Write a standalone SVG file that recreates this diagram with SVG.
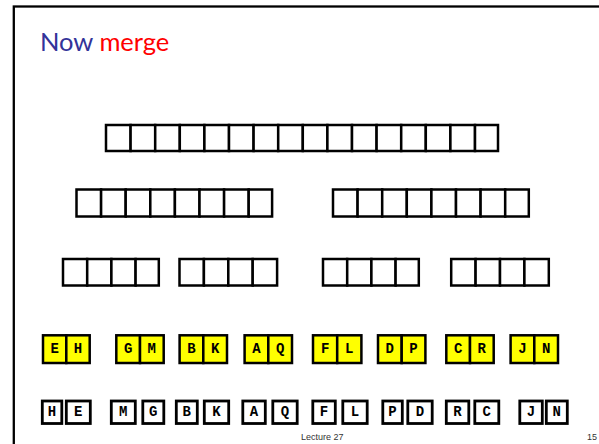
<svg xmlns="http://www.w3.org/2000/svg" width="599" height="444" viewBox="0 0 599 444">
<style>
.c{fill:#fff;stroke:#000;stroke-width:2.5}
.y{fill:#ffff00;stroke:#000;stroke-width:2.5}
.b{fill:#fff;stroke:#000;stroke-width:2.8}
.t{font-family:"Liberation Mono",monospace;font-weight:bold;font-size:14px;text-anchor:middle}
.f{font-family:"Liberation Sans",Arial,sans-serif;font-size:9px;fill:#333}
</style>
<rect width="599" height="444" fill="#fff"/>
<rect x="13.8" y="6.5" width="600" height="450" fill="none" stroke="#000" stroke-width="2.3"/>
<text x="40" y="51" font-family="Lato,'Open Sans',sans-serif" font-size="25.5"><tspan fill="#333399">Now</tspan> <tspan fill="#ff0000">merge</tspan></text>
<g id="row1">
<rect class="c" x="106" y="125" width="24.6" height="26"/>
<rect class="c" x="130.6" y="125" width="24.6" height="26"/>
<rect class="c" x="155.2" y="125" width="24.6" height="26"/>
<rect class="c" x="179.8" y="125" width="24.6" height="26"/>
<rect class="c" x="204.4" y="125" width="24.6" height="26"/>
<rect class="c" x="229" y="125" width="24.6" height="26"/>
<rect class="c" x="253.6" y="125" width="24.6" height="26"/>
<rect class="c" x="278.2" y="125" width="24.6" height="26"/>
<rect class="c" x="302.8" y="125" width="24.6" height="26"/>
<rect class="c" x="327.4" y="125" width="24.6" height="26"/>
<rect class="c" x="352" y="125" width="24.6" height="26"/>
<rect class="c" x="376.6" y="125" width="24.6" height="26"/>
<rect class="c" x="401.2" y="125" width="24.6" height="26"/>
<rect class="c" x="425.8" y="125" width="24.6" height="26"/>
<rect class="c" x="450.4" y="125" width="24.6" height="26"/>
<rect class="c" x="475" y="125" width="23" height="26"/>
</g>
<g id="row2a">
<rect class="c" x="76.5" y="189.5" width="24.6" height="27"/>
<rect class="c" x="101.1" y="189.5" width="24.6" height="27"/>
<rect class="c" x="125.7" y="189.5" width="24.6" height="27"/>
<rect class="c" x="150.3" y="189.5" width="24.6" height="27"/>
<rect class="c" x="174.9" y="189.5" width="24.6" height="27"/>
<rect class="c" x="199.5" y="189.5" width="24.6" height="27"/>
<rect class="c" x="224.1" y="189.5" width="24.6" height="27"/>
<rect class="c" x="248.7" y="189.5" width="23.4" height="27"/>
</g>
<g id="row2b">
<rect class="c" x="333" y="189.5" width="24.6" height="27"/>
<rect class="c" x="357.6" y="189.5" width="24.6" height="27"/>
<rect class="c" x="382.2" y="189.5" width="24.6" height="27"/>
<rect class="c" x="406.8" y="189.5" width="24.6" height="27"/>
<rect class="c" x="431.4" y="189.5" width="24.6" height="27"/>
<rect class="c" x="456" y="189.5" width="24.6" height="27"/>
<rect class="c" x="480.6" y="189.5" width="24.6" height="27"/>
<rect class="c" x="505.2" y="189.5" width="23.6" height="27"/>
</g>
<g id="row3a">
<rect class="c" x="63" y="259" width="24.2" height="26.5"/>
<rect class="c" x="87.2" y="259" width="24.2" height="26.5"/>
<rect class="c" x="111.4" y="259" width="24.2" height="26.5"/>
<rect class="c" x="135.6" y="259" width="23.2" height="26.5"/>
</g>
<g id="row3b">
<rect class="c" x="179.5" y="259" width="24.4" height="26.5"/>
<rect class="c" x="203.9" y="259" width="24.4" height="26.5"/>
<rect class="c" x="228.3" y="259" width="24.4" height="26.5"/>
<rect class="c" x="252.7" y="259" width="24.4" height="26.5"/>
</g>
<g id="row3c">
<rect class="c" x="323" y="259" width="24.2" height="26.5"/>
<rect class="c" x="347.2" y="259" width="24.2" height="26.5"/>
<rect class="c" x="371.4" y="259" width="24.2" height="26.5"/>
<rect class="c" x="395.6" y="259" width="23.2" height="26.5"/>
</g>
<g id="row3d">
<rect class="c" x="451.2" y="259" width="24.4" height="26.5"/>
<rect class="c" x="475.6" y="259" width="24.4" height="26.5"/>
<rect class="c" x="500" y="259" width="24.4" height="26.5"/>
<rect class="c" x="524.4" y="259" width="24.4" height="26.5"/>
</g>
<g id="row4">
<g id="pEH"><rect class="y" x="43" y="335.3" width="23.3" height="27.7"/><rect class="y" x="66.3" y="335.3" width="23.4" height="27.7"/><text class="t" x="54.7" y="352.8">E</text><text class="t" x="78" y="352.8">H</text></g>
<g id="pGM"><rect class="y" x="116.3" y="335.3" width="23.7" height="27.7"/><rect class="y" x="140" y="335.3" width="23.7" height="27.7"/><text class="t" x="128.2" y="352.8">G</text><text class="t" x="151.8" y="352.8">M</text></g>
<g id="pBK"><rect class="y" x="179.6" y="335.3" width="23.7" height="27.7"/><rect class="y" x="203.3" y="335.3" width="23.7" height="27.7"/><text class="t" x="191.5" y="352.8">B</text><text class="t" x="215.2" y="352.8">K</text></g>
<g id="pAQ"><rect class="y" x="244.6" y="335.3" width="23.7" height="27.7"/><rect class="y" x="268.3" y="335.3" width="23.7" height="27.7"/><text class="t" x="256.5" y="352.8">A</text><text class="t" x="280.2" y="352.8">Q</text></g>
<g id="pFL"><rect class="y" x="313" y="335.3" width="24.2" height="27.7"/><rect class="y" x="337.2" y="335.3" width="24.2" height="27.7"/><text class="t" x="325.1" y="352.8">F</text><text class="t" x="349.3" y="352.8">L</text></g>
<g id="pDP"><rect class="y" x="378" y="335.3" width="23.7" height="27.7"/><rect class="y" x="401.7" y="335.3" width="23.7" height="27.7"/><text class="t" x="389.8" y="352.8">D</text><text class="t" x="413.5" y="352.8">P</text></g>
<g id="pCR"><rect class="y" x="446.3" y="335.3" width="23.7" height="27.7"/><rect class="y" x="470" y="335.3" width="23.7" height="27.7"/><text class="t" x="458.1" y="352.8">C</text><text class="t" x="481.8" y="352.8">R</text></g>
<g id="pJN"><rect class="y" x="510.6" y="335.3" width="23.7" height="27.7"/><rect class="y" x="534.3" y="335.3" width="23.7" height="27.7"/><text class="t" x="522.4" y="352.8">J</text><text class="t" x="546.1" y="352.8">N</text></g>
</g>
<g id="row5">
<g id="bH"><rect class="b" x="42.3" y="401" width="19.5" height="22.5"/><text class="t" x="52" y="416">H</text></g>
<g id="bE"><rect class="b" x="66.3" y="401" width="24" height="22.5"/><text class="t" x="78.3" y="416">E</text></g>
<g id="bM"><rect class="b" x="111.3" y="401" width="24" height="22.5"/><text class="t" x="123.3" y="416">M</text></g>
<g id="bG"><rect class="b" x="142.8" y="401" width="21" height="22.5"/><text class="t" x="153.3" y="416">G</text></g>
<g id="bB"><rect class="b" x="176.3" y="401" width="21" height="22.5"/><text class="t" x="186.8" y="416">B</text></g>
<g id="bK"><rect class="b" x="204.3" y="401" width="24.4" height="22.5"/><text class="t" x="216.5" y="416">K</text></g>
<g id="bA"><rect class="b" x="242.8" y="401" width="22.5" height="22.5"/><text class="t" x="254" y="416">A</text></g>
<g id="bQ"><rect class="b" x="272.8" y="401" width="24.4" height="22.5"/><text class="t" x="285" y="416">Q</text></g>
<g id="bF"><rect class="b" x="312.8" y="401" width="22.5" height="22.5"/><text class="t" x="324" y="416">F</text></g>
<g id="bL"><rect class="b" x="342.8" y="401" width="24.4" height="22.5"/><text class="t" x="355" y="416">L</text></g>
<g id="bP"><rect class="b" x="382.8" y="401" width="19.5" height="22.5"/><text class="t" x="392.5" y="416">P</text></g>
<g id="bD"><rect class="b" x="407.8" y="401" width="24.4" height="22.5"/><text class="t" x="420" y="416">D</text></g>
<g id="bR"><rect class="b" x="446.3" y="401" width="22.5" height="22.5"/><text class="t" x="457.5" y="416">R</text></g>
<g id="bC"><rect class="b" x="474.8" y="401" width="24" height="22.5"/><text class="t" x="486.8" y="416">C</text></g>
<g id="bJ"><rect class="b" x="519.8" y="401" width="22.5" height="22.5"/><text class="t" x="531" y="416">J</text></g>
<g id="bN"><rect class="b" x="546.3" y="401" width="21" height="22.5"/><text class="t" x="556.8" y="416">N</text></g>
</g>
<text class="f" x="301" y="439.5">Lecture 27</text>
<text class="f" x="587" y="439.5">15</text>
</svg>
